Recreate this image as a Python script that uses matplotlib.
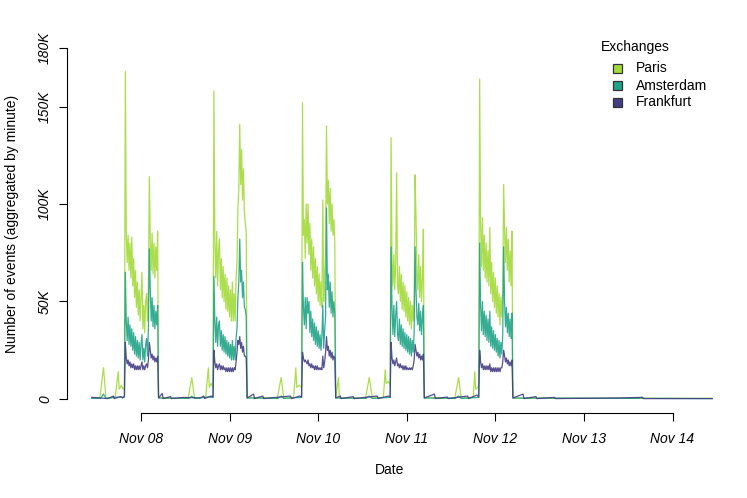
import matplotlib
matplotlib.use("Agg")
import matplotlib.pyplot as plt
import matplotlib.dates as mdates
import numpy as np
import pandas as pd
from matplotlib.patches import Rectangle

# ---- data (values in thousands of events per minute) ----
exchanges = ["Paris", "Amsterdam", "Frankfurt"]
colors = ["#A2DA39", "#20A386", "#433D84"]

session_open = ["2021-11-07 19:45", "2021-11-08 19:45", "2021-11-09 19:45",
                "2021-11-10 19:45", "2021-11-11 19:45"]

paris_sessions = [
    [168, 85, 70, 84, 66, 80, 62, 83, 58, 72, 52, 66, 47, 60, 43, 56, 40, 52, 65, 36,
     48, 34, 50, 54, 40, 58, 114, 82, 66, 85, 64, 80, 62, 78, 66, 86],
    [158, 80, 62, 86, 58, 76, 82, 56, 72, 52, 68, 50, 64, 46, 62, 45, 58, 42, 56, 40,
     60, 40, 54, 40, 62, 70, 98, 108, 141, 110, 128, 102, 118, 96, 90, 86],
    [152, 84, 92, 72, 100, 80, 100, 74, 90, 66, 82, 62, 78, 58, 72, 54, 68, 50, 64, 48,
     60, 47, 102, 50, 64, 75, 140, 100, 112, 90, 108, 86, 100, 84, 92, 80],
    [134, 72, 58, 74, 56, 70, 116, 58, 54, 68, 50, 64, 46, 60, 45, 58, 42, 55, 40, 52,
     38, 50, 36, 48, 40, 52, 115, 93, 64, 56, 74, 52, 68, 50, 62, 87],
    [164, 90, 68, 93, 66, 84, 62, 80, 60, 76, 58, 88, 54, 70, 50, 65, 47, 62, 44, 58,
     42, 54, 38, 52, 42, 56, 110, 86, 70, 88, 66, 82, 60, 76, 58, 86],
]
amsterdam_sessions = [
    [65, 40, 30, 42, 28, 38, 27, 36, 25, 34, 23, 32, 22, 30, 21, 29, 20, 28, 33, 20,
     26, 19, 28, 31, 22, 36, 77, 56, 40, 52, 37, 48, 36, 45, 38, 48],
    [63, 40, 29, 42, 27, 38, 40, 27, 35, 25, 33, 24, 32, 23, 30, 22, 29, 21, 28, 20,
     30, 20, 27, 20, 31, 36, 52, 60, 82, 60, 66, 52, 60, 47, 46, 42],
    [70, 47, 38, 52, 36, 52, 44, 50, 34, 45, 32, 41, 30, 39, 28, 37, 27, 35, 26, 33,
     25, 32, 48, 26, 35, 42, 98, 56, 64, 47, 60, 44, 55, 42, 50, 44],
    [78, 47, 33, 48, 32, 43, 50, 33, 30, 41, 28, 38, 27, 36, 26, 34, 25, 33, 24, 32,
     23, 31, 22, 30, 24, 34, 78, 56, 42, 38, 49, 35, 45, 33, 42, 48],
    [80, 48, 35, 50, 33, 45, 32, 43, 30, 41, 29, 45, 27, 37, 26, 35, 25, 33, 24, 31,
     22, 30, 21, 29, 23, 33, 78, 50, 37, 47, 34, 44, 32, 41, 31, 44],
]
frankfurt_sessions = [
    [29, 21, 18, 20, 17, 19, 16, 18, 16, 18, 15, 17, 15, 17, 15, 17, 15, 17, 19, 15,
     17, 15, 17, 18, 16, 20, 29, 25, 21, 23, 20, 22, 19, 21, 19, 22],
    [25, 19, 16, 18, 15, 17, 18, 15, 17, 15, 17, 15, 16, 14, 16, 14, 16, 14, 16, 14,
     16, 14, 16, 15, 19, 24, 30, 28, 32, 26, 29, 24, 27, 22, 22, 21],
    [24, 21, 19, 20, 19, 18, 20, 17, 18, 16, 18, 16, 17, 15, 17, 15, 17, 15, 16, 15,
     16, 15, 22, 16, 19, 24, 32, 25, 27, 22, 25, 21, 24, 20, 22, 21],
    [29, 21, 18, 20, 17, 19, 21, 17, 18, 16, 18, 16, 17, 15, 17, 15, 17, 15, 16, 15,
     16, 15, 16, 15, 17, 20, 28, 25, 22, 24, 21, 23, 20, 22, 20, 23],
    [25, 19, 16, 18, 15, 17, 15, 17, 15, 17, 15, 18, 14, 16, 14, 16, 14, 16, 14, 16,
     14, 16, 14, 16, 16, 19, 25, 22, 19, 21, 18, 20, 17, 19, 17, 20],
]

# activity outside the trading sessions (time, thousands)
paris_quiet = [
    ("11-07 10:40", 0.3), ("11-07 12:50", 0.5), ("11-07 13:50", 16), ("11-07 14:30", 0.5),
    ("11-07 17:00", 0.8), ("11-07 17:50", 14), ("11-07 18:05", 5), ("11-07 18:40", 7),
    ("11-07 19:10", 5), ("11-07 19:30", 6),
    ("11-08 04:45", 0.8), ("11-08 06:00", 0.3), ("11-08 12:45", 0.4), ("11-08 13:45", 11),
    ("11-08 14:30", 0.4), ("11-08 17:30", 0.8), ("11-08 18:15", 16), ("11-08 18:30", 6),
    ("11-08 19:00", 8), ("11-08 19:30", 6),
    ("11-09 04:45", 0.8), ("11-09 12:55", 0.4), ("11-09 13:58", 11), ("11-09 14:40", 0.4),
    ("11-09 17:20", 0.8), ("11-09 17:57", 16), ("11-09 18:10", 6), ("11-09 18:50", 7),
    ("11-09 19:30", 6),
    ("11-10 04:45", 0.8), ("11-10 05:30", 11), ("11-10 05:45", 0.5), ("11-10 12:50", 0.4),
    ("11-10 13:50", 11), ("11-10 14:40", 0.4), ("11-10 17:40", 0.8), ("11-10 18:10", 15),
    ("11-10 18:25", 8), ("11-10 19:00", 9), ("11-10 19:30", 7),
    ("11-11 04:45", 0.8), ("11-11 13:00", 0.4), ("11-11 14:03", 11), ("11-11 14:45", 0.4),
    ("11-11 18:00", 0.8), ("11-11 18:25", 14), ("11-11 18:40", 5), ("11-11 19:10", 6),
    ("11-11 19:30", 6),
    ("11-12 04:45", 0.8), ("11-12 05:30", 0.3), ("11-14 10:45", 0.3),
]
amsterdam_quiet = [
    ("11-07 10:40", 0.3), ("11-07 13:00", 0.3), ("11-07 13:50", 2.5), ("11-07 14:30", 0.3),
    ("11-07 17:50", 1.0), ("11-07 19:30", 0.8),
    ("11-08 04:45", 0.5), ("11-08 13:00", 0.3), ("11-08 13:45", 1.5), ("11-08 14:30", 0.3),
    ("11-08 18:15", 1.0), ("11-08 19:30", 0.8),
    ("11-09 04:45", 0.5), ("11-09 13:10", 0.3), ("11-09 13:58", 1.5), ("11-09 14:40", 0.3),
    ("11-09 19:30", 0.8),
    ("11-10 04:45", 0.5), ("11-10 13:00", 0.3), ("11-10 13:50", 1.5), ("11-10 14:40", 0.3),
    ("11-10 19:30", 0.8),
    ("11-11 04:45", 0.5), ("11-11 13:10", 0.3), ("11-11 14:03", 1.5), ("11-11 14:45", 0.3),
    ("11-11 19:30", 0.8),
    ("11-12 04:45", 0.5), ("11-13 15:00", 0.3), ("11-13 15:40", 1.0), ("11-13 16:20", 0.3),
    ("11-14 10:45", 0.2),
]
frankfurt_quiet = [
    ("11-07 10:40", 0.8), ("11-07 15:00", 0.2), ("11-07 16:30", 1.5), ("11-07 16:45", 0.2),
    ("11-07 18:30", 1.2), ("11-07 19:00", 0.5), ("11-07 19:30", 1.5),
    ("11-08 04:45", 0.5), ("11-08 05:45", 2.8), ("11-08 06:00", 0.2), ("11-08 08:00", 1.2),
    ("11-08 08:15", 0.2), ("11-08 11:30", 0.8), ("11-08 16:00", 0.5), ("11-08 17:00", 1.5),
    ("11-08 17:15", 0.2), ("11-08 19:00", 1.5), ("11-08 19:30", 1.0),
    ("11-09 04:45", 0.5), ("11-09 06:30", 2.5), ("11-09 06:45", 0.2), ("11-09 09:00", 1.5),
    ("11-09 09:15", 0.2), ("11-09 16:30", 1.5), ("11-09 16:45", 0.2), ("11-09 19:00", 1.5),
    ("11-09 19:30", 1.0),
    ("11-10 04:45", 0.5), ("11-10 06:00", 1.5), ("11-10 06:15", 0.2), ("11-10 09:30", 1.2),
    ("11-10 09:45", 0.2), ("11-10 16:00", 1.5), ("11-10 16:15", 0.2), ("11-10 19:00", 1.5),
    ("11-10 19:30", 1.0),
    ("11-11 04:45", 0.5), ("11-11 07:30", 2.5), ("11-11 07:45", 0.2), ("11-11 11:00", 1.0),
    ("11-11 11:15", 0.2), ("11-11 16:30", 1.5), ("11-11 16:45", 0.2), ("11-11 19:00", 2.0),
    ("11-11 19:30", 1.0),
    ("11-12 04:45", 0.5), ("11-12 07:30", 2.5), ("11-12 07:45", 0.2), ("11-12 11:00", 1.2),
    ("11-12 11:15", 0.2), ("11-12 16:00", 0.8), ("11-12 16:15", 0.2), ("11-13 09:00", 0.5),
    ("11-13 15:30", 0.8), ("11-13 16:10", 0.2), ("11-14 10:45", 0.2),
]

ytick_vals = [0, 50000, 100000, 150000, 180000]
ytick_labels = ["0", "50K", "100K", "150K", "180K"]
xtick_days = ["2021-11-08", "2021-11-09", "2021-11-10", "2021-11-11",
              "2021-11-12", "2021-11-13", "2021-11-14"]


def build(sessions, quiet):
    t = [pd.Timestamp("2021-" + s) for s, v in quiet]
    v = [val * 1000 for s, val in quiet]
    for start, vals in zip(session_open, sessions):
        t += list(pd.date_range(start, periods=len(vals), freq="15min"))
        v += [x * 1000 for x in vals]
    order = np.argsort(t)
    return np.array(t)[order], np.array(v)[order]


series = [build(paris_sessions, paris_quiet),
          build(amsterdam_sessions, amsterdam_quiet),
          build(frankfurt_sessions, frankfurt_quiet)]

plt.rcParams["font.family"] = ["Liberation Sans", "DejaVu Sans"]
plt.rcParams["font.size"] = 10

W, H = 747, 498
fig = plt.figure(figsize=(W / 100, H / 100), dpi=100)
ax = fig.add_axes([67 / W, 85 / H, 670 / W, 379 / H])

for (t, v), c in zip(series, colors):
    ax.plot(t, v, color=c, lw=0.9, alpha=0.9)

# R-style axis ranges (4% padding)
t0 = mdates.date2num(min(s[0][0] for s in series))
t1 = mdates.date2num(max(s[0][-1] for s in series))
pad = (t1 - t0) * 0.04
ax.set_xlim(t0 - pad, t1 + pad)
ax.set_ylim(-0.04 * 180000, 1.04 * 180000)

for s in ["top", "right"]:
    ax.spines[s].set_visible(False)
ticks = [mdates.date2num(pd.Timestamp(d)) for d in xtick_days]
ax.spines["left"].set_bounds(0, 180000)
ax.spines["bottom"].set_bounds(ticks[0], ticks[-1])
for s in ["left", "bottom"]:
    ax.spines[s].set_linewidth(0.8)

ax.set_xticks(ticks)
ax.set_xticklabels([pd.Timestamp(d).strftime("%b %d") for d in xtick_days],
                   style="italic")
ax.set_yticks(ytick_vals)
ax.set_yticklabels(ytick_labels, rotation=90, va="center", style="italic")
ax.tick_params(axis="both", direction="out", length=5.8, width=0.8)
ax.tick_params(axis="y", pad=5)
ax.tick_params(axis="x", pad=8)

fig.text(12 / W, 1 - 224 / H, "Number of events (aggregated by minute)",
         rotation=90, ha="center", va="center")
fig.text(390 / W, 1 - 470 / H, "Date", ha="center", va="center")

# legend
fig.text(601 / W, 1 - 47 / H, "Exchanges", ha="left", va="center")
for i, (name, c) in enumerate(zip(exchanges, colors)):
    yc = 68.5 + i * 17
    fig.patches.append(Rectangle(((612.5) / W, 1 - (yc + 4.5) / H), 9 / W, 9 / H,
                                 transform=fig.transFigure, facecolor=c,
                                 edgecolor="#333333", lw=0.9))
    fig.text(636 / W, 1 - yc / H, name, ha="left", va="center")

fig.savefig("out.png", dpi=100)
